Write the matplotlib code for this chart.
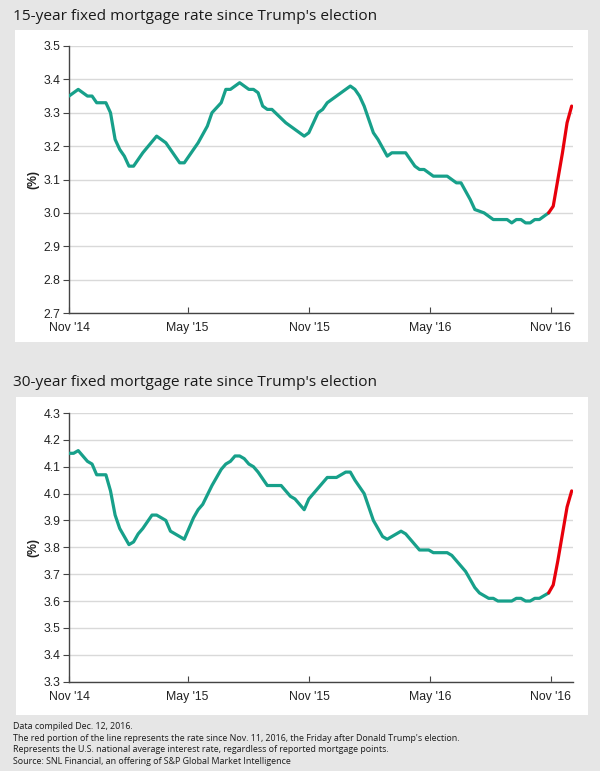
import matplotlib
matplotlib.use("Agg")
import matplotlib.pyplot as plt
from matplotlib.patches import Rectangle
import pandas as pd

# ---- data (weekly readings, week 0 = first reading) ----
START = pd.Timestamp("2014-11-07")
RED_FROM_WEEK = 104  # last reading before Nov. 11, 2016 -> red part starts here

weeks_15 = [0, 2, 4, 5, 6, 8, 9, 10, 11, 12, 13, 14, 16, 19, 21, 24, 25, 28, 30, 31,
            33, 34, 35, 37, 39, 40, 41, 42, 43, 44, 47, 49, 51, 52, 54, 55, 56, 61, 62, 63,
            64, 66, 67, 69, 70, 73, 74, 75, 76, 77, 79, 82, 84, 85, 87, 88, 90, 92, 95, 96,
            97, 98, 99, 100, 101, 102, 103, 104, 105, 106, 107, 108, 109]
rate_15 = [3.35, 3.37, 3.35, 3.35, 3.33, 3.33, 3.30, 3.22, 3.19, 3.17, 3.14, 3.14, 3.18, 3.23,
           3.21, 3.15, 3.15, 3.21, 3.26, 3.30, 3.33, 3.37, 3.37, 3.39, 3.37, 3.37, 3.36, 3.32,
           3.31, 3.31, 3.27, 3.25, 3.23, 3.24, 3.30, 3.31, 3.33, 3.38, 3.37, 3.35, 3.32, 3.24,
           3.22, 3.17, 3.18, 3.18, 3.16, 3.14, 3.13, 3.13, 3.11, 3.11, 3.09, 3.09, 3.04, 3.01,
           3.00, 2.98, 2.98, 2.97, 2.98, 2.98, 2.97, 2.97, 2.98, 2.98, 2.99, 3.00, 3.02, 3.10,
           3.18, 3.27, 3.32]

weeks_30 = [0, 1, 2, 3, 4, 5, 6, 8, 9, 10, 11, 12, 13, 14, 15, 16, 18, 19, 20, 21,
            22, 24, 25, 26, 27, 28, 29, 31, 32, 33, 34, 35, 36, 37, 38, 39, 40, 41, 43, 46,
            48, 49, 51, 52, 54, 55, 56, 58, 59, 60, 61, 62, 64, 66, 67, 68, 69, 72, 73, 75,
            76, 78, 79, 82, 83, 84, 85, 86, 88, 89, 90, 91, 92, 93, 96, 97, 98, 99, 100, 101,
            102, 103, 104, 105, 106, 107, 108, 109]
rate_30 = [4.15, 4.15, 4.16, 4.14, 4.12, 4.11, 4.07, 4.07, 4.01, 3.92, 3.87, 3.84, 3.81, 3.82,
           3.85, 3.87, 3.92, 3.92, 3.91, 3.90, 3.86, 3.84, 3.83, 3.87, 3.91, 3.94, 3.96, 4.03,
           4.06, 4.09, 4.11, 4.12, 4.14, 4.14, 4.13, 4.11, 4.10, 4.08, 4.03, 4.03, 3.99, 3.98,
           3.94, 3.98, 4.02, 4.04, 4.06, 4.06, 4.07, 4.08, 4.08, 4.05, 4.00, 3.90, 3.87, 3.84,
           3.83, 3.86, 3.85, 3.81, 3.79, 3.79, 3.78, 3.78, 3.77, 3.75, 3.73, 3.71, 3.65, 3.63,
           3.62, 3.61, 3.61, 3.60, 3.60, 3.61, 3.61, 3.60, 3.60, 3.61, 3.61, 3.62, 3.63, 3.66,
           3.75, 3.85, 3.95, 4.01]

tick_dates = ["2014-11-07", "2015-05-06", "2015-11-07", "2016-05-08", "2016-11-07"]
tick_labels = ["Nov '14", "May '15", "Nov '15", "May '16", "Nov '16"]

titles = ["15-year fixed mortgage rate since Trump's election",
          "30-year fixed mortgage rate since Trump's election"]
notes = [
    "Data compiled Dec. 12, 2016.",
    "The red portion of the line represents the rate since Nov. 11, 2016, the Friday after Donald Trump's election.",
    "Represents the U.S. national average interest rate, regardless of reported mortgage points.",
    "Source: SNL Financial, an offering of S&P Global Market Intelligence",
]

TEAL = "#17a08a"
RED = "#e8000b"
BG = "#e6e6e6"
W, H = 600, 771


def px_box(x0, y0, x1, y1):
    """pixel box (top-left origin) -> figure fraction [l, b, w, h]"""
    return [x0 / W, 1 - y1 / H, (x1 - x0) / W, (y1 - y0) / H]


def draw_panel(fig, ax_box, panel_box, title_y, title, weeks, rates, ylim, yticks):
    l, b, w, h = px_box(*panel_box)
    fig.patches.append(Rectangle((l, b), w, h, transform=fig.transFigure,
                                 facecolor="white", edgecolor="none", zorder=-5))
    fig.text(13 / W, 1 - title_y / H, title, fontsize=11.1, family="Open Sans",
             color="#1a1a1a", va="center", ha="left")

    ax = fig.add_axes(px_box(*ax_box))
    ax.set_zorder(2)
    ax.set_facecolor("white")
    dates = START + pd.to_timedelta([wk * 7 for wk in weeks], unit="D")
    s = pd.Series(rates, index=dates)
    red_start = START + pd.Timedelta(days=7 * RED_FROM_WEEK)
    green = s[s.index <= red_start]
    red = s[s.index >= red_start]
    ax.plot(green.index, green.values, color=TEAL, lw=2.3, solid_joinstyle="round",
            solid_capstyle="round", zorder=3)
    ax.plot(red.index, red.values, color=RED, lw=2.3, solid_joinstyle="round",
            solid_capstyle="round", zorder=3)

    ax.set_ylim(*ylim)
    ax.set_yticks(yticks)
    ax.set_yticklabels([f"{t:.1f}" for t in yticks])
    ax.set_xlim(START, pd.Timestamp("2016-12-11"))
    ax.set_xticks(pd.to_datetime(tick_dates))
    ax.set_xticklabels(tick_labels)
    ax.grid(axis="y", color="#d9d9d9", lw=1.0)
    ax.set_axisbelow(True)
    for sp in ["top", "right"]:
        ax.spines[sp].set_visible(False)
    for sp in ["left", "bottom"]:
        ax.spines[sp].set_color("#444444")
        ax.spines[sp].set_linewidth(1.0)
    ax.tick_params(axis="y", length=4, width=0.8, color="#444444", labelsize=8.8,
                   labelcolor="#222222", pad=2)
    ax.tick_params(axis="x", direction="in", length=4, width=0.8, color="#444444",
                   labelsize=8.8, labelcolor="#222222", pad=6.5)
    for lab in ax.get_xticklabels() + ax.get_yticklabels():
        lab.set_family("Liberation Sans")
    ax.set_ylabel("(%)", fontsize=8.8, family="Liberation Sans", fontweight="bold",
                  color="#222222", labelpad=3)
    return ax


fig = plt.figure(figsize=(6, 7.71), dpi=100, facecolor=BG)

draw_panel(fig, (69, 46, 573, 313), (15, 30, 588, 342), 17, titles[0],
           weeks_15, rate_15, (2.7, 3.5), [2.7, 2.8, 2.9, 3.0, 3.1, 3.2, 3.3, 3.4, 3.5])
draw_panel(fig, (69, 413, 573, 681.6), (16, 397, 588, 715), 383, titles[1],
           weeks_30, rate_30, (3.3, 4.3), [3.3, 3.4, 3.5, 3.6, 3.7, 3.8, 3.9, 4.0, 4.1, 4.2, 4.3])

for i, line in enumerate(notes):
    fig.text(13 / W, 1 - (726.5 + i * 11.6) / H, line, fontsize=6.4, family="Open Sans",
             color="#1a1a1a", va="center", ha="left")

fig.savefig("out.png", dpi=100, facecolor=BG)
